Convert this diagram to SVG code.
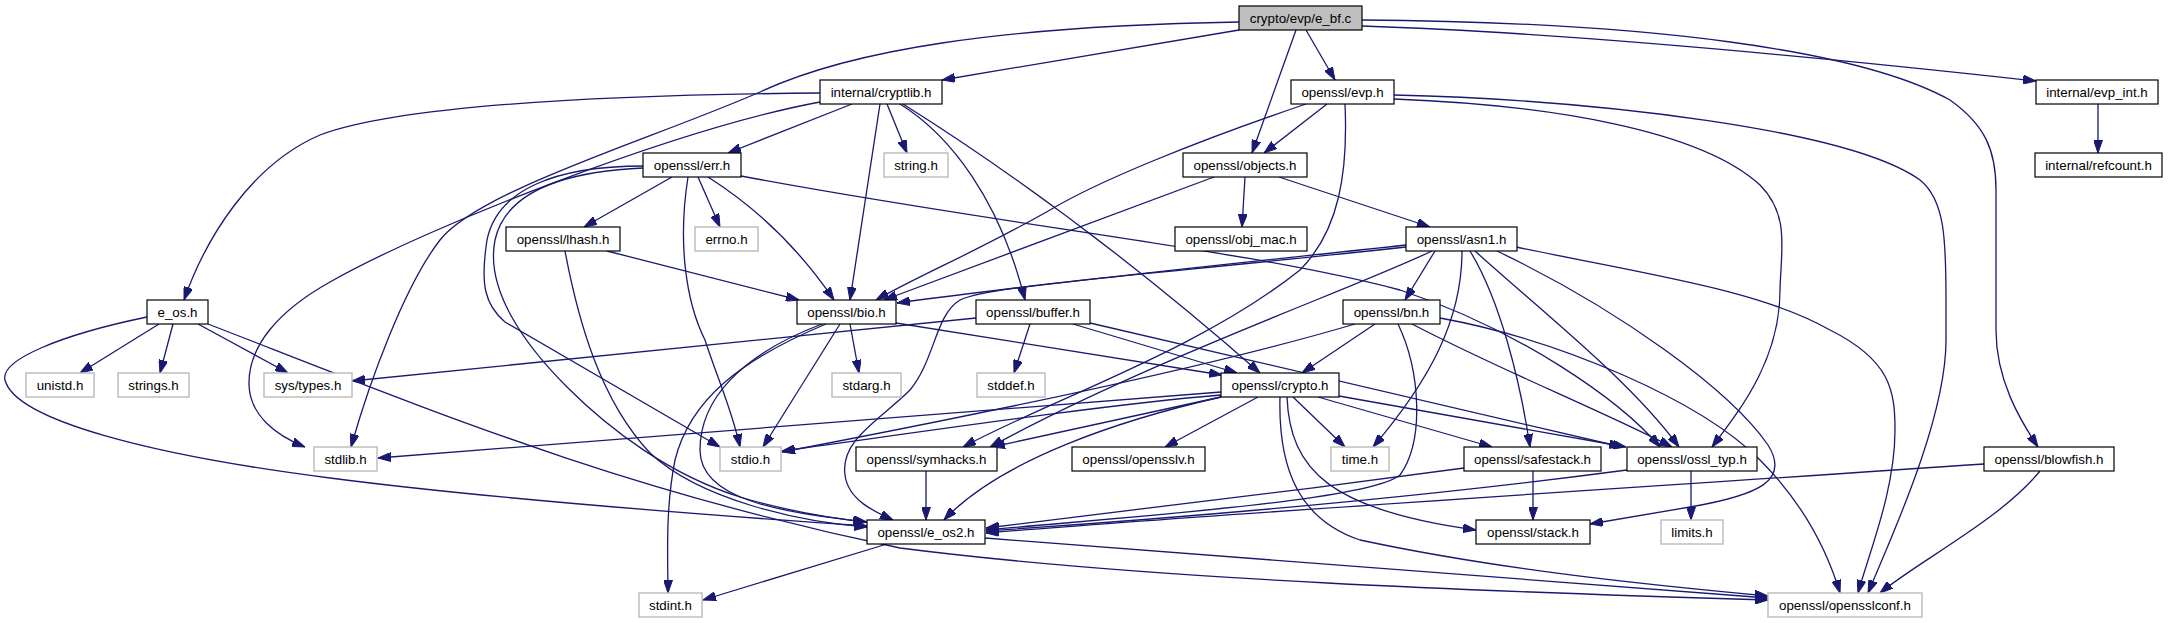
<svg xmlns="http://www.w3.org/2000/svg" width="2168" height="623" viewBox="0 0 2168 623">
<style>
.n rect{fill:#fff;stroke:#000;stroke-width:1.2}
.g rect{fill:#fff;stroke:#bfbfbf;stroke-width:1.5}
.r rect{fill:#bfbfbf;stroke:#000;stroke-width:1.2}
text{font-family:"Liberation Sans",Arial,Helvetica,sans-serif;font-size:13.33px;text-anchor:middle;fill:#000}
.e path{fill:none;stroke:#191970;stroke-width:1.3;marker-end:url(#a)}
</style>
<defs>
<marker id="a" viewBox="0 0 13 9" refX="13" refY="4.5" markerWidth="13" markerHeight="9" markerUnits="userSpaceOnUse" orient="auto"><path d="M0,0L13,4.5L0,9z" fill="#191970" stroke="#191970" stroke-width="1"/></marker>
</defs>
<rect x="0" y="0" width="2168" height="623" fill="#fff"/>
<g id="edges" class="e">
<path d="M1239,30 L942,80"/>
<path d="M1306,30 L1335,80"/>
<path d="M1296,30 L1252,153"/>
<path d="M1362,26 C1550,32 1800,55 2036,81"/>
<path d="M1362,20 C1650,22 1860,50 1950,100 C1985,125 1996,150 1996,190 L1996,330 C1996,380 2020,420 2038,447"/>
<path d="M1239,22 C1000,26 850,50 760,92 C650,140 480,190 440,240 C405,285 370,380 351,447"/>
<path d="M820,93 C600,95 400,105 320,135 C250,165 205,240 184,300"/>
<path d="M820,102 C680,128 430,225 330,282 C280,310 248,345 249,385 C250,415 275,435 305,447"/>
<path d="M852,104 L728,153"/>
<path d="M887,104 L907,153"/>
<path d="M880,104 L850,300"/>
<path d="M900,104 C950,135 1000,200 1025,300"/>
<path d="M903,104 C1000,165 1120,250 1260,373"/>
<path d="M1327,104 L1264,153"/>
<path d="M1306,104 C1200,140 1100,180 1050,210 C980,250 920,275 876,300"/>
<path d="M1345,104 C1348,170 1340,230 1300,270 C1200,350 1050,400 963,447"/>
<path d="M1394,99 C1550,105 1700,130 1760,185 C1790,215 1781,250 1780,290 C1780,360 1740,410 1712,447"/>
<path d="M1394,95 C1600,100 1850,130 1920,180 C1945,200 1946,240 1946,300 L1946,340 C1946,420 1890,540 1868,593"/>
<path d="M1245,177 L1242,227"/>
<path d="M1214,177 L884,300"/>
<path d="M1279,177 L1430,227"/>
<path d="M1406,245 C1250,262 1050,282 897,303"/>
<path d="M1406,247 C1150,275 990,285 960,300 C935,315 935,360 910,390 C880,420 840,440 845,475 C848,500 875,512 893,520"/>
<path d="M1435,251 L1405,300"/>
<path d="M1432,251 C1350,290 1150,360 990,447"/>
<path d="M1462,251 C1462,320 1430,380 1373,447"/>
<path d="M1470,251 C1500,300 1520,380 1530,447"/>
<path d="M1475,251 C1540,310 1630,380 1679,447"/>
<path d="M1497,251 C1620,310 1730,390 1768,445 C1790,480 1760,495 1690,507 C1650,514 1620,519 1590,524"/>
<path d="M1516,247 C1650,275 1760,290 1830,330 C1890,360 1895,390 1895,430 C1895,490 1870,550 1858,593"/>
<path d="M1355,324 C1200,370 950,420 782,452"/>
<path d="M1375,324 L1302,373"/>
<path d="M1398,324 C1420,370 1425,440 1400,475 C1370,500 1150,515 986,530"/>
<path d="M1412,324 C1500,370 1600,410 1672,447"/>
<path d="M1440,318 C1560,340 1700,400 1760,460 C1810,510 1830,560 1840,593"/>
<path d="M1221,392 L378,458"/>
<path d="M1221,395 C1100,405 900,435 782,451"/>
<path d="M1221,397 L992,447"/>
<path d="M1258,397 L1165,447"/>
<path d="M1221,397 C1120,420 1000,460 944,520"/>
<path d="M1293,397 L1345,447"/>
<path d="M1318,397 L1492,447"/>
<path d="M1339,396 L1626,447"/>
<path d="M1287,397 C1290,470 1330,510 1476,530"/>
<path d="M1280,397 C1278,470 1300,520 1360,540 C1500,570 1650,585 1768,596"/>
<path d="M850,324 L859,373"/>
<path d="M840,324 L763,447"/>
<path d="M896,323 L1222,375"/>
<path d="M822,324 C740,355 700,400 700,450 C700,500 780,512 867,522"/>
<path d="M826,324 C740,360 690,400 675,460 C665,510 668,560 668,593"/>
<path d="M976,318 L352,381"/>
<path d="M1030,324 L1014,373"/>
<path d="M1073,324 L1237,373"/>
<path d="M1090,323 L1622,447"/>
<path d="M672,177 L584,227"/>
<path d="M698,177 L720,227"/>
<path d="M688,177 C678,240 685,300 705,340 C718,380 732,410 740,447"/>
<path d="M708,177 C760,210 800,250 834,300"/>
<path d="M741,176 C1000,225 1250,250 1400,290 C1520,330 1620,400 1660,447"/>
<path d="M643,166 C555,166 497,190 487,240 C480,285 485,305 505,322 L720,447"/>
<path d="M643,168 C555,172 505,195 495,240 C485,290 525,345 567,387 C610,430 670,475 740,497 C790,512 830,518 866,522"/>
<path d="M607,251 L799,300"/>
<path d="M565,251 C578,320 600,400 650,453 C700,500 800,522 867,527"/>
<path d="M159,324 L80,373"/>
<path d="M173,324 L160,373"/>
<path d="M198,324 L288,373"/>
<path d="M147,317 C60,335 0,360 5,380 C15,420 150,455 330,478 C500,500 720,516 867,526"/>
<path d="M208,324 C430,410 620,490 900,548 C1150,580 1500,592 1768,600"/>
<path d="M926,471 L926,520"/>
<path d="M1533,471 L1533,520"/>
<path d="M1464,468 C1300,490 1100,515 986,528"/>
<path d="M1691,471 L1691,520"/>
<path d="M1627,470 C1400,500 1150,520 986,531"/>
<path d="M1984,464 C1600,490 1200,515 986,533"/>
<path d="M2040,471 C2000,520 1920,560 1880,593"/>
<path d="M887,544 L703,600"/>
<path d="M985,538 C1300,560 1550,580 1768,598"/>
<path d="M2098,104 L2098,153"/>
</g>
<g id="n_e_bf" class="r"><rect x="1239" y="6" width="123" height="24"/><text x="1300.5" y="22.5">crypto/evp/e_bf.c</text></g>
<g id="n_cryptlib" class="n"><rect x="820" y="80" width="122" height="24"/><text x="881" y="96.5">internal/cryptlib.h</text></g>
<g id="n_evp" class="n"><rect x="1291" y="80" width="103" height="24"/><text x="1342.5" y="96.5">openssl/evp.h</text></g>
<g id="n_evp_int" class="n"><rect x="2036" y="80" width="122" height="24"/><text x="2097" y="96.5">internal/evp_int.h</text></g>
<g id="n_string" class="g"><rect x="884" y="153" width="64" height="24"/><text x="916" y="169.5">string.h</text></g>
<g id="n_err" class="n"><rect x="643" y="153" width="98" height="24"/><text x="692" y="169.5">openssl/err.h</text></g>
<g id="n_objects" class="n"><rect x="1183" y="153" width="124" height="24"/><text x="1245" y="169.5">openssl/objects.h</text></g>
<g id="n_refcount" class="n"><rect x="2035" y="153" width="127" height="24"/><text x="2098.5" y="169.5">internal/refcount.h</text></g>
<g id="n_lhash" class="n"><rect x="506" y="227" width="114" height="24"/><text x="563" y="243.5">openssl/lhash.h</text></g>
<g id="n_errno" class="g"><rect x="695" y="227" width="63" height="24"/><text x="726.5" y="243.5">errno.h</text></g>
<g id="n_obj_mac" class="n"><rect x="1175" y="227" width="132" height="24"/><text x="1241" y="243.5">openssl/obj_mac.h</text></g>
<g id="n_asn1" class="n"><rect x="1406" y="227" width="111" height="24"/><text x="1461.5" y="243.5">openssl/asn1.h</text></g>
<g id="n_e_os" class="n"><rect x="147" y="300" width="61" height="24"/><text x="177.5" y="316.5">e_os.h</text></g>
<g id="n_bio" class="n"><rect x="797" y="300" width="99" height="24"/><text x="846.5" y="316.5">openssl/bio.h</text></g>
<g id="n_buffer" class="n"><rect x="976" y="300" width="114" height="24"/><text x="1033" y="316.5">openssl/buffer.h</text></g>
<g id="n_bn" class="n"><rect x="1343" y="300" width="97" height="24"/><text x="1391.5" y="316.5">openssl/bn.h</text></g>
<g id="n_unistd" class="g"><rect x="26" y="373" width="68" height="24"/><text x="60" y="389.5">unistd.h</text></g>
<g id="n_strings" class="g"><rect x="118" y="373" width="71" height="24"/><text x="153.5" y="389.5">strings.h</text></g>
<g id="n_systypes" class="g"><rect x="264" y="373" width="88" height="24"/><text x="308" y="389.5">sys/types.h</text></g>
<g id="n_stdarg" class="g"><rect x="832" y="373" width="69" height="24"/><text x="866.5" y="389.5">stdarg.h</text></g>
<g id="n_stddef" class="g"><rect x="977" y="373" width="68" height="24"/><text x="1011" y="389.5">stddef.h</text></g>
<g id="n_crypto" class="n"><rect x="1221" y="373" width="118" height="24"/><text x="1280" y="389.5">openssl/crypto.h</text></g>
<g id="n_stdlib" class="g"><rect x="314" y="447" width="63" height="24"/><text x="345.5" y="463.5">stdlib.h</text></g>
<g id="n_stdio" class="g"><rect x="720" y="447" width="61" height="24"/><text x="750.5" y="463.5">stdio.h</text></g>
<g id="n_symhacks" class="n"><rect x="856" y="447" width="141" height="24"/><text x="926.5" y="463.5">openssl/symhacks.h</text></g>
<g id="n_opensslv" class="n"><rect x="1072" y="447" width="133" height="24"/><text x="1138.5" y="463.5">openssl/opensslv.h</text></g>
<g id="n_time" class="g"><rect x="1331" y="447" width="58" height="24"/><text x="1360" y="463.5">time.h</text></g>
<g id="n_safestack" class="n"><rect x="1464" y="447" width="137" height="24"/><text x="1532.5" y="463.5">openssl/safestack.h</text></g>
<g id="n_ossl_typ" class="n"><rect x="1627" y="447" width="130" height="24"/><text x="1692" y="463.5">openssl/ossl_typ.h</text></g>
<g id="n_blowfish" class="n"><rect x="1984" y="447" width="130" height="24"/><text x="2049" y="463.5">openssl/blowfish.h</text></g>
<g id="n_e_os2" class="n"><rect x="867" y="520" width="118" height="24"/><text x="926" y="536.5">openssl/e_os2.h</text></g>
<g id="n_stack" class="n"><rect x="1476" y="520" width="114" height="24"/><text x="1533" y="536.5">openssl/stack.h</text></g>
<g id="n_limits" class="g"><rect x="1661" y="520" width="62" height="24"/><text x="1692" y="536.5">limits.h</text></g>
<g id="n_stdint" class="g"><rect x="639" y="593" width="63" height="24"/><text x="670.5" y="609.5">stdint.h</text></g>
<g id="n_opensslconf" class="g"><rect x="1768" y="593" width="154" height="24"/><text x="1845" y="609.5">openssl/opensslconf.h</text></g>
</svg>
